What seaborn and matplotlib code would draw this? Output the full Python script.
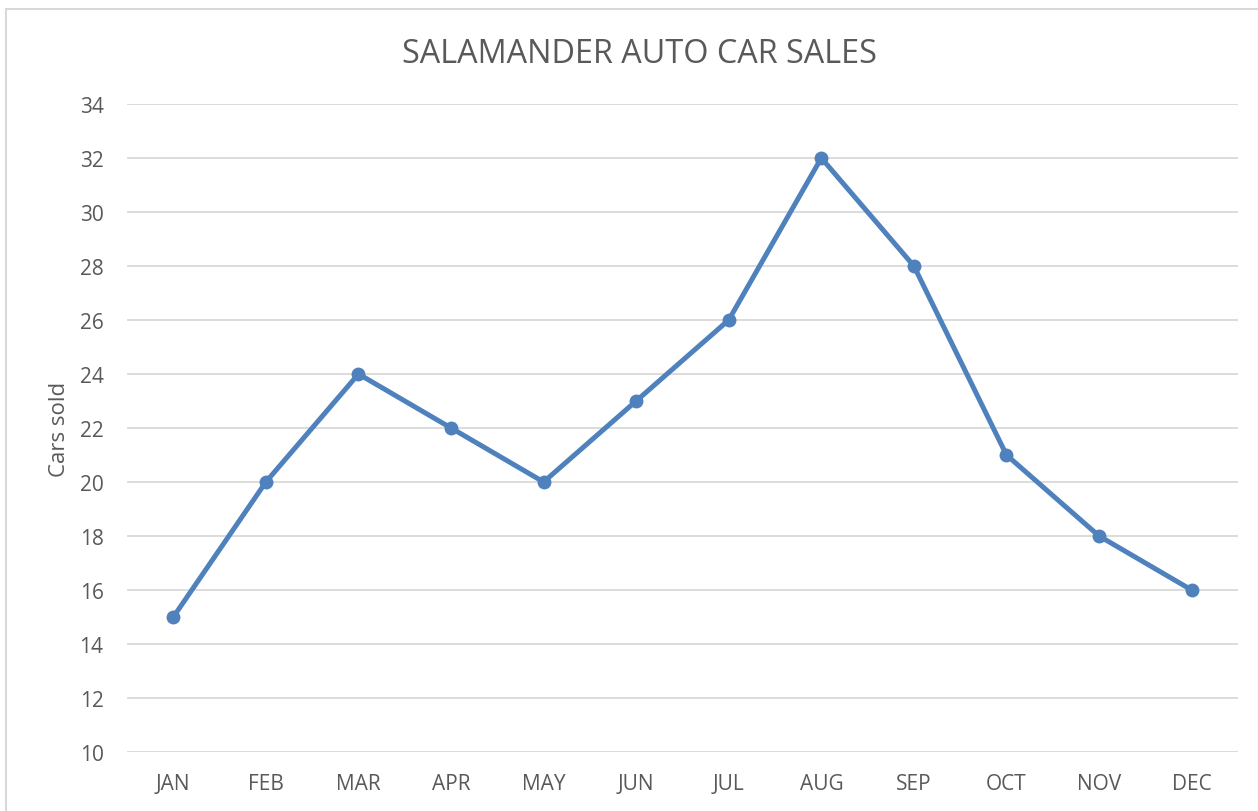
import matplotlib.pyplot as plt
import seaborn as sns
import pandas as pd

months = ["JAN", "FEB", "MAR", "APR", "MAY", "JUN",
          "JUL", "AUG", "SEP", "OCT", "NOV", "DEC"]
cars_sold = [15, 20, 24, 22, 20, 23, 26, 32, 28, 21, 18, 16]

df = pd.DataFrame({"month": months, "cars": cars_sold})

sns.set_theme(style="white")
plt.rcParams['font.family'] = ['Open Sans', 'DejaVu Sans']
text_color = "#595959"

fig = plt.figure(figsize=(12.58, 8.12), dpi=100)
ax = fig.add_axes([0.101, 0.0727, 0.883, 0.798])

sns.lineplot(data=df, x="month", y="cars", ax=ax, color="#4F81BD",
             linewidth=3.6, marker="o", markersize=10, markeredgewidth=0,
             sort=False)

ax.set_ylim(10, 34)
ax.set_yticks(range(10, 35, 2))
ax.set_xlim(-0.5, 11.5)
ax.yaxis.grid(True, color="#D9D9D9", linewidth=1.3)
ax.set_axisbelow(True)
for s in ax.spines.values():
    s.set_visible(False)
ax.tick_params(axis="both", length=0, labelsize=15, colors=text_color)
ax.tick_params(axis="y", pad=17)
ax.tick_params(axis="x", pad=15)
ax.set_xlabel("")
ax.set_ylabel("Cars sold", fontsize=16, color=text_color, labelpad=7)

fig.text(0.508, 0.933, "SALAMANDER AUTO CAR SALES", ha="center", va="center",
         fontsize=23.3, color=text_color)

# chart border
fig.patches.append(plt.Rectangle((0.005, -0.01), 1.0, 1.0 - 0.002,
                                 transform=fig.transFigure, fill=False,
                                 edgecolor="#D9D9D9", linewidth=1.5))

plt.savefig("out.png", dpi=100)
